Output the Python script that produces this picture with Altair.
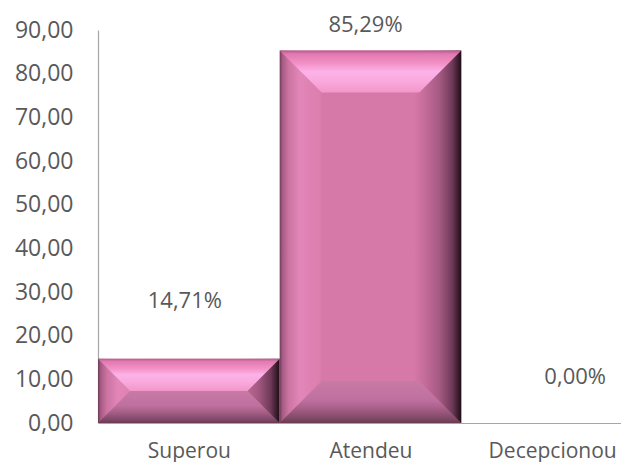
import json
import altair as alt
import pandas as pd

# ---- data ----
categories = ["Superou", "Atendeu", "Decepcionou"]
values = [14.71, 85.29, 0.00]
value_labels = ["14,71%", "85,29%", "0,00%"]
y_ticks = [0, 10, 20, 30, 40, 50, 60, 70, 80, 90]

# ---- layout / style constants ----
PLOT_W = 523          # visible plot width (svg must fit in 613px)
BAND_PX = 181.67      # width of one category band (last band runs past the right edge)
PLOT_H = 393
Y_MAX = 90
BEVEL_PX = 42
FONT = "Open Sans"
TXT = "#595959"
AXIS = "#a6a6a6"

px_per_unit = PLOT_H / Y_MAX
x_max = PLOT_W / BAND_PX

bars = pd.DataFrame({
    "cat": categories,
    "idx": list(range(len(categories))),
    "value": values,
    "label": value_labels,
})
bars["x0"] = bars["idx"]
bars["x1"] = bars["idx"] + 1
bars["xc"] = bars["idx"] + 0.5
bars["base"] = 0.0

top_rows, bot_rows = [], []
for i, (c, v) in enumerate(zip(categories, values)):
    if v <= 0:
        continue
    b_px = min(BEVEL_PX, v * px_per_unit / 2)
    bu = b_px / px_per_unit
    bx = b_px / BAND_PX
    xs = [i, i + bx, i + 1 - bx, i + 1]
    for x, lo in zip(xs, [v, v - bu, v - bu, v]):
        top_rows.append({"cat": c, "x": x, "y": v, "y2": lo})
    for x, hi in zip(xs, [0, bu, bu, 0]):
        bot_rows.append({"cat": c, "x": x, "y": hi, "y2": 0.0})
top_df = pd.DataFrame(top_rows)
bot_df = pd.DataFrame(bot_rows)

x_scale = alt.Scale(domain=[0, x_max], nice=False, zero=False)
y_scale = alt.Scale(domain=[0, Y_MAX], nice=False)

label_expr = json.dumps(categories) + "[floor(datum.value)]"

x_axis = alt.Axis(
    values=[i + 0.5 for i in range(len(categories))],
    labelExpr=label_expr, title=None, ticks=False, tickSize=0, grid=False,
    labelPadding=17, labelFont=FONT, labelFontSize=21, labelColor=TXT,
    domainColor=AXIS, domainWidth=1.2, labelFlush=False,
)
y_axis = alt.Axis(
    values=y_ticks, labelExpr="replace(format(datum.value, '.2f'), '.', ',')",
    title=None, ticks=False, tickSize=0, grid=False, labelPadding=25,
    labelFont=FONT, labelFontSize=23, labelColor=TXT,
    domainColor=AXIS, domainWidth=1.2, labelFlush=False,
)

side_grad = alt.Gradient(
    gradient="linear", x1=0, x2=1, y1=0, y2=0,
    stops=[
        alt.GradientStop(offset=0.0, color="#6e3c56"),
        alt.GradientStop(offset=0.015, color="#a65a84"),
        alt.GradientStop(offset=0.05, color="#cc74a2"),
        alt.GradientStop(offset=0.11, color="#e286b8"),
        alt.GradientStop(offset=0.22, color="#dc7eae"),
        alt.GradientStop(offset=0.232, color="#d678a8"),
        alt.GradientStop(offset=0.74, color="#d678a8"),
        alt.GradientStop(offset=0.80, color="#c46c9a"),
        alt.GradientStop(offset=0.88, color="#a45a82"),
        alt.GradientStop(offset=0.95, color="#6e3a58"),
        alt.GradientStop(offset=1.0, color="#1e0c16"),
    ],
)
top_grad = alt.Gradient(
    gradient="linear", x1=0, x2=0, y1=0, y2=1,
    stops=[
        alt.GradientStop(offset=0.0, color="#b85a88"),
        alt.GradientStop(offset=0.08, color="#e07ab0"),
        alt.GradientStop(offset=0.3, color="#f290c6"),
        alt.GradientStop(offset=0.5, color="#fcb2e8"),
        alt.GradientStop(offset=0.75, color="#f9a8dc"),
        alt.GradientStop(offset=1.0, color="#f296ca"),
    ],
)
bot_grad = alt.Gradient(
    gradient="linear", x1=0, x2=0, y1=0, y2=1,
    stops=[
        alt.GradientStop(offset=0.0, color="#c87aa4"),
        alt.GradientStop(offset=0.45, color="#c070a0"),
        alt.GradientStop(offset=0.65, color="#a86088"),
        alt.GradientStop(offset=0.9, color="#7e4866"),
        alt.GradientStop(offset=1.0, color="#6a3a52"),
    ],
)

X = lambda f: alt.X(f, scale=x_scale, axis=x_axis)
Y = lambda f: alt.Y(f, scale=y_scale, axis=y_axis)

body = alt.Chart(bars).transform_filter("datum.value > 0").mark_rect(color=side_grad).encode(
    x=X("x0:Q"), x2="x1:Q", y=Y("value:Q"), y2="base:Q",
)

top_bevel = alt.Chart(top_df).mark_area(color=top_grad, interpolate="linear").encode(
    x=X("x:Q"), y=Y("y:Q"), y2="y2:Q", detail="cat:N",
)
bot_bevel = alt.Chart(bot_df).mark_area(color=bot_grad, interpolate="linear").encode(
    x=X("x:Q"), y=Y("y:Q"), y2="y2:Q", detail="cat:N",
)

label_offsets = {"Superou": (-4, -58), "Atendeu": (-5, -26), "Decepcionou": (23, -46.5)}
texts = []
for c in categories:
    dx, dy = label_offsets[c]
    texts.append(
        alt.Chart(bars).transform_filter(alt.datum.cat == c).mark_text(
            font=FONT, fontSize=22, color=TXT, baseline="middle", align="center", dx=dx, dy=dy
        ).encode(x=X("xc:Q"), y=Y("value:Q"), text="label:N")
    )

chart = alt.layer(body, top_bevel, bot_bevel, *texts).properties(
    width=PLOT_W, height=PLOT_H,
    autosize=alt.AutoSizeParams(type="none"),
    padding={"left": 90, "top": 22, "right": 0, "bottom": 39},
    background="white",
).configure_view(stroke=None)

chart.save("out.html", embed_options={"renderer": "svg", "actions": False})
